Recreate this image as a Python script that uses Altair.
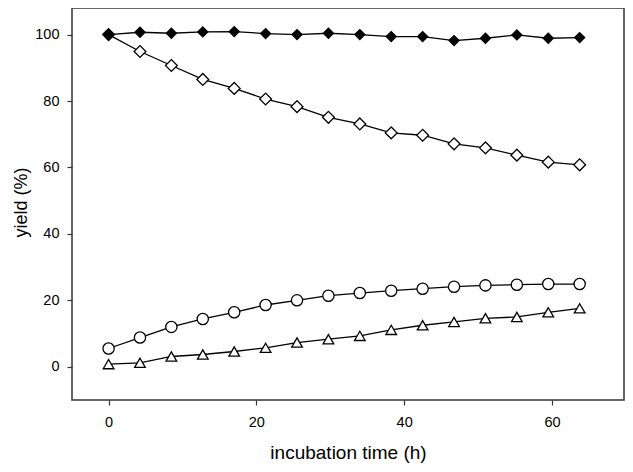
import altair as alt
import pandas as pd

# incubation time (h)
time_h = [0, 4.25, 8.5, 12.75, 17, 21.25, 25.5, 29.75, 34, 38.25, 42.5, 46.75, 51, 55.25, 59.5, 63.75]

# yield (%) for each series
open_diamond = [100, 94.9, 90.7, 86.5, 83.8, 80.6, 78.3, 75.1, 73.1, 70.4, 69.7, 67.1, 65.9, 63.7, 61.6, 60.8]
open_circle = [5.5, 8.8, 12.0, 14.4, 16.4, 18.6, 20.0, 21.4, 22.2, 22.9, 23.5, 24.1, 24.5, 24.7, 24.9, 24.9]
open_triangle = [0.8, 1.2, 3.1, 3.7, 4.6, 5.7, 7.3, 8.3, 9.3, 11.1, 12.5, 13.5, 14.6, 15.0, 16.4, 17.6]
filled_diamond = [100, 100.7, 100.4, 100.8, 100.9, 100.3, 100.0, 100.4, 100.0, 99.4, 99.4, 98.2, 98.9, 99.9, 98.9, 99.1]

series_names = ["open_diamond", "open_circle", "open_triangle", "filled_diamond"]
series_values = [open_diamond, open_circle, open_triangle, filled_diamond]
x_ticks = [0, 20, 40, 60]
y_ticks = [0, 20, 40, 60, 80, 100]

rows = []
for name, vals in zip(series_names, series_values):
    for t, v in zip(time_h, vals):
        rows.append({"series": name, "time": t, "yield": v})
df = pd.DataFrame(rows)

FONT = "Liberation Sans"
AX = "#333333"

x_enc = alt.X(
    "time:Q",
    scale=alt.Scale(domain=[-4.95, 69.75], nice=False, zero=False),
    axis=alt.Axis(
        title="incubation time (h)",
        values=x_ticks,
        grid=False,
        domain=False,
        tickSize=5,
        tickWidth=1.2,
        tickColor=AX,
        labelFontSize=14.5,
        labelFont=FONT,
        labelColor="black",
        labelPadding=10,
        titleFont=FONT,
        titleFontSize=19,
        titleFontWeight="normal",
        titleColor="black",
        titleY=58,
        titleBaseline="alphabetic",
    ),
)
y_enc = alt.Y(
    "yield:Q",
    scale=alt.Scale(domain=[-10, 108], nice=False, zero=False),
    axis=alt.Axis(
        title="yield (%)",
        values=y_ticks,
        grid=False,
        domain=False,
        tickSize=5,
        tickWidth=1.2,
        tickColor=AX,
        labelFontSize=14.5,
        labelFont=FONT,
        labelColor="black",
        labelPadding=8,
        titleFont=FONT,
        titleFontSize=18,
        titleFontWeight="normal",
        titleColor="black",
        titleX=-51,
        titleY=194,
        titleAngle=270,
        titleBaseline="middle",
    ),
)

lines = alt.Chart(df).mark_line(color="black", strokeWidth=1.3).encode(
    x=x_enc, y=y_enc, detail="series:N"
)

points = alt.Chart(df).mark_point(
    filled=True, stroke="black", strokeWidth=1.3, opacity=1
).encode(
    x=x_enc,
    y=y_enc,
    shape=alt.Shape(
        "series:N",
        scale=alt.Scale(domain=series_names, range=["diamond", "circle", "triangle-up", "diamond"]),
        legend=None,
    ),
    fill=alt.Fill(
        "series:N",
        scale=alt.Scale(domain=series_names, range=["white", "white", "white", "black"]),
        legend=None,
    ),
    size=alt.Size(
        "series:N",
        scale=alt.Scale(domain=series_names, range=[140, 100, 115, 140]),
        legend=None,
    ),
)

chart = (
    alt.layer(lines, points)
    .properties(
        width=552,
        height=392,
        autosize=alt.AutoSizeParams(type="none"),
        padding={"left": 64, "top": 0, "right": 1, "bottom": 64},
        background="white",
    )
    .configure_view(stroke=AX, strokeWidth=1.5)
)

chart.save("out.html", embed_options={"renderer": "svg", "actions": False})
